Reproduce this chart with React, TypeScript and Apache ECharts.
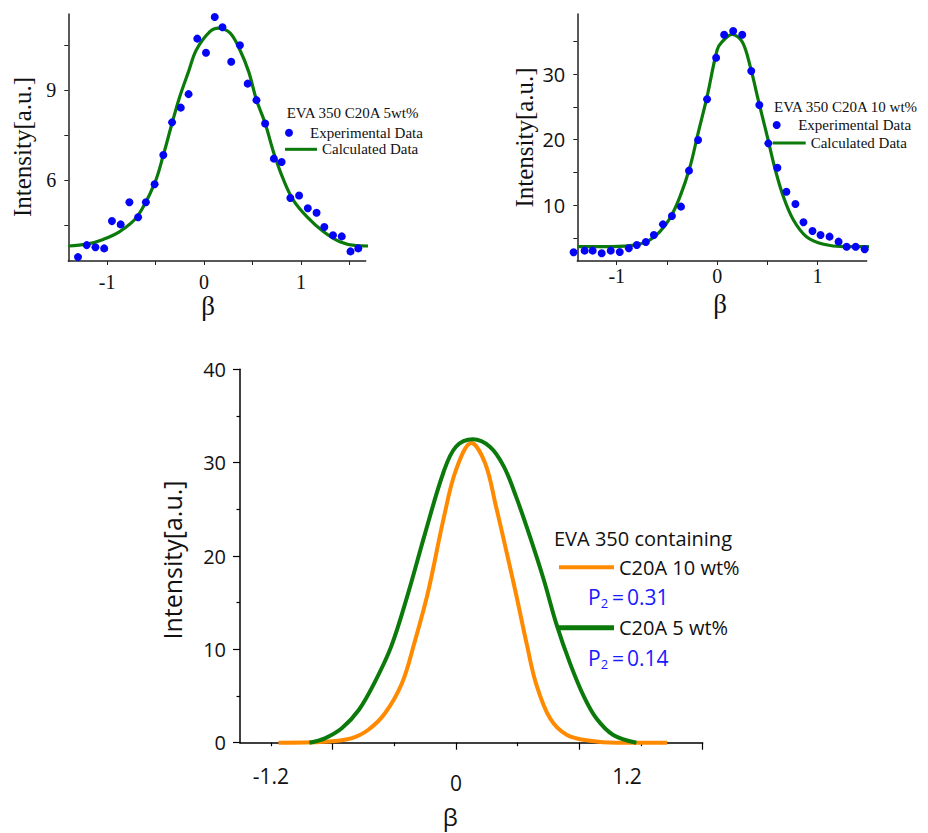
import React, { useEffect, useRef } from 'react';
import * as echarts from 'echarts';

// ---------- Top-left: EVA 350 C20A 5wt% ----------
const tlExpBeta = [-1.30, -1.21, -1.12, -1.03, -0.95, -0.86, -0.77, -0.68, -0.60, -0.51, -0.42, -0.33, -0.24, -0.16, -0.07, 0.02, 0.11, 0.19, 0.28, 0.37, 0.45, 0.54, 0.63, 0.72, 0.80, 0.89, 0.98, 1.07, 1.16, 1.24, 1.33, 1.42, 1.51, 1.59];
const tlExpIntensity = [3.43, 3.83, 3.76, 3.72, 4.63, 4.52, 5.26, 4.76, 5.26, 5.86, 6.83, 7.92, 8.41, 8.86, 10.71, 10.24, 11.43, 11.09, 9.94, 10.49, 9.21, 8.66, 7.88, 6.71, 6.60, 5.40, 5.48, 5.06, 4.91, 4.43, 4.16, 4.12, 3.62, 3.72];
const tlCalcBeta = [-1.40, -1.21, -1.04, -0.87, -0.69, -0.51, -0.42, -0.33, -0.25, -0.16, -0.08, 0.06, 0.15, 0.27, 0.37, 0.46, 0.54, 0.63, 0.72, 0.82, 0.92, 1.06, 1.23, 1.40, 1.57, 1.71];
const tlCalcIntensity = [3.80, 3.86, 4.02, 4.28, 4.78, 5.89, 6.83, 7.89, 8.78, 9.61, 10.33, 10.94, 11.06, 10.89, 10.33, 9.61, 8.67, 7.89, 6.89, 6.00, 5.33, 4.78, 4.28, 3.94, 3.81, 3.80];
const tlXTicks = [-1, -0.5, 0, 0.5, 1, 1.5];
const tlXLabels = [-1, 0, 1];
const tlYTicks = [4.5, 6, 7.5, 9, 10.5];
const tlYLabels = [6, 9];

// ---------- Top-right: EVA 350 C20A 10 wt% ----------
const trExpBeta = [-1.43, -1.32, -1.24, -1.15, -1.06, -0.97, -0.88, -0.80, -0.71, -0.63, -0.54, -0.45, -0.36, -0.28, -0.19, -0.10, -0.01, 0.07, 0.16, 0.25, 0.34, 0.42, 0.51, 0.60, 0.69, 0.78, 0.86, 0.95, 1.03, 1.12, 1.21, 1.29, 1.38, 1.47];
const trExpIntensity = [2.85, 3.10, 3.10, 2.70, 3.10, 2.90, 3.45, 3.96, 4.42, 5.48, 7.10, 8.38, 9.80, 15.28, 19.95, 26.15, 32.48, 35.99, 36.55, 35.99, 30.46, 25.28, 19.44, 15.73, 12.08, 10.20, 7.42, 6.09, 5.48, 5.23, 4.47, 3.70, 3.70, 3.30];
const trCalcBeta = [-1.39, -1.13, -0.87, -0.70, -0.57, -0.47, -0.37, -0.27, -0.19, -0.10, 0.00, 0.05, 0.15, 0.25, 0.33, 0.41, 0.50, 0.58, 0.66, 0.76, 0.89, 1.06, 1.26, 1.55];
const trCalcIntensity = [3.70, 3.70, 3.86, 4.47, 5.99, 8.02, 11.32, 15.88, 20.97, 26.55, 33.65, 34.92, 36.04, 34.92, 31.12, 26.04, 20.45, 15.38, 11.32, 7.77, 5.23, 4.07, 3.70, 3.70];
const trXTicks = [-1, -0.5, 0, 0.5, 1];
const trXLabels = [-1, 0, 1];
const trYTicks = [5, 10, 15, 20, 25, 30, 35];
const trYLabels = [10, 20, 30];

// ---------- Bottom: comparison ----------
const bt10Beta = [-1.15, -0.85, -0.68, -0.57, -0.46, -0.35, -0.27, -0.18, -0.08, 0.00, 0.10, 0.19, 0.26, 0.33, 0.39, 0.46, 0.52, 0.61, 0.72, 0.87, 1.04, 1.37];
const bt10Intensity = [0, 0.10, 0.47, 1.36, 3.15, 6.36, 10.65, 16.2, 24.0, 29.2, 32.1, 29.9, 25.3, 20.3, 15.9, 10.5, 6.3, 2.61, 0.82, 0.20, 0, 0];
const bt5Beta = [-0.95, -0.85, -0.74, -0.63, -0.53, -0.42, -0.31, -0.20, -0.08, 0.00, 0.11, 0.22, 0.31, 0.39, 0.48, 0.57, 0.65, 0.74, 0.83, 0.91, 1.02, 1.17];
const bt5Intensity = [0, 0.47, 1.54, 3.50, 6.36, 10.29, 16.0, 22.43, 29.0, 31.7, 32.5, 31.7, 29.6, 26.36, 22.07, 17.43, 12.79, 8.50, 4.93, 2.61, 0.82, 0];
const btXMajorTicks = [-0.8, 0, 0.8, 1.6];
const btXMinorTicks = [-1.2, -0.4, 0.4, 1.2];
const btXLabels = [-1.2, 0, 1.2];
const btP2 = ['0.31', '0.14'];

const SERIF = '"Liberation Serif", "Times New Roman", serif';
const SANS = '"Open Sans", "Noto Sans", sans-serif';
const BLUE = '#0505f5';
const GREEN = '#0b7a0b';
const ORANGE = '#ff8a00';
const PBLUE = '#1a1aff';
const AX = '#222';

const zip = (xs: number[], ys: number[]) => xs.map((x, i) => [x, ys[i]]);

export default function App() {
  const ref = useRef<HTMLDivElement>(null);
  useEffect(() => {
    if (!ref.current) return;
    const chart = echarts.init(ref.current, null, { renderer: 'svg' });

    const topX = (grid: number, min: number, max: number, ticks: number[], labels: number[], margin: number, namePad: number) => ({
      type: 'value', gridIndex: grid, min, max,
      axisLine: { show: true, onZero: false, lineStyle: { color: AX, width: 1.5 } },
      axisTick: { show: true, customValues: ticks, length: 4, lineStyle: { color: AX, width: 1 } },
      axisLabel: { customValues: labels, margin, fontFamily: SERIF, fontSize: 20, color: '#111' },
      splitLine: { show: false },
      name: 'β', nameLocation: 'middle', nameGap: 29,
      nameTextStyle: { fontFamily: SERIF, fontSize: 27, color: '#111', padding: [0, namePad, 0, 0] },
    });
    const topY = (grid: number, min: number, max: number, ticks: number[], labels: number[], labelFont: string, nameGap: number, namePad: number) => ({
      type: 'value', gridIndex: grid, min, max,
      axisLine: { show: true, onZero: false, lineStyle: { color: AX, width: 1.5 } },
      axisTick: { show: true, customValues: ticks, length: 4, lineStyle: { color: AX, width: 1 } },
      axisLabel: { customValues: labels, margin: 12, fontFamily: labelFont, fontSize: 20, color: '#111' },
      splitLine: { show: false },
      name: 'Intensity[a.u.]', nameLocation: 'middle', nameGap,
      nameTextStyle: { fontFamily: SERIF, fontSize: 25, color: '#111', padding: [0, namePad, 0, 0] },
    });

    const legendBase = (left: number, top: number, name: string, icon: string, w: number, h: number, font: string, size: number) => ({
      show: true, left, top, padding: 0, itemGap: 0, orient: 'horizontal',
      itemWidth: w, itemHeight: h, selectedMode: false,
      itemStyle: { borderWidth: 0 },
      data: [{ name, icon }],
      textStyle: { fontFamily: font, fontSize: size, color: '#111', lineHeight: size + 1 },
    });

    const p2Text = (y: number, val: string) => ({
      type: 'text', x: 588, y,
      style: {
        text: `{p|P}{s|2}{e|=}{p|${val}}`,
        fill: PBLUE, verticalAlign: 'middle',
        rich: {
          p: { fontSize: 21, fontFamily: SANS, fill: PBLUE },
          s: { fontSize: 13, fontFamily: SANS, fill: PBLUE, padding: [12, 1, 0, 0] },
          e: { fontSize: 21, fontFamily: SANS, fill: PBLUE, padding: [0, 3, 0, 3] },
        },
      },
    });

    const option: any = {
      animation: false,
      backgroundColor: '#ffffff',
      grid: [
        { left: 68.3, top: 14, width: 297.4, height: 247, containLabel: false },
        { left: 577.3, top: 14, width: 289.4, height: 247, containLabel: false },
        { left: 240, top: 369.3, width: 462.7, height: 373.4, containLabel: false },
      ],
      xAxis: [
        topX(0, -1.40, 1.667, tlXTicks, tlXLabels, 11, 18),
        topX(1, -1.393, 1.49, trXTicks, trXLabels, 5, 4),
        {
          type: 'value', gridIndex: 2, min: -1.4, max: 1.6, position: 'bottom',
          axisLine: { show: true, onZero: false, lineStyle: { color: '#000', width: 1.5 } },
          axisTick: { show: true, customValues: btXMajorTicks, length: 7, lineStyle: { color: '#000', width: 1.2 } },
          axisLabel: {
            customValues: btXLabels, margin: 23, fontFamily: SANS, fontSize: 21, color: '#111',
            formatter: (v: number) => (v === 0 ? '{lo|0}' : v > 0 ? `{sh|${v}}` : `{n|${v}}`),
            rich: {
              n: { fontFamily: SANS, fontSize: 21, color: '#111' },
              lo: { fontFamily: SANS, fontSize: 21, color: '#111', padding: [7, 0, 0, 0] },
              sh: { fontFamily: SANS, fontSize: 21, color: '#111', padding: [0, 28, 0, 0] },
            },
          },
          splitLine: { show: false },
          name: 'β', nameLocation: 'middle', nameGap: 62,
          nameTextStyle: { fontFamily: SANS, fontSize: 24, color: '#111', padding: [0, 42, 0, 0] },
        },
        {
          type: 'value', gridIndex: 2, min: -1.4, max: 1.6, position: 'bottom',
          axisLine: { show: false, onZero: false },
          axisTick: { show: true, customValues: btXMinorTicks, length: 3.5, lineStyle: { color: '#000', width: 1.2 } },
          axisLabel: { show: false },
          splitLine: { show: false },
        },
      ],
      yAxis: [
        topY(0, 3.3, 11.53, tlYTicks, tlYLabels, SERIF, 33, 19),
        topY(1, 1.52, 39.14, trYTicks, trYLabels, SANS, 40, 0),
        {
          type: 'value', gridIndex: 2, min: 0, max: 40, interval: 10,
          axisLine: { show: true, onZero: false, lineStyle: { color: '#000', width: 1.5 } },
          axisTick: { show: true, length: 7, lineStyle: { color: '#000', width: 1.2 } },
          minorTick: { show: true, splitNumber: 2, length: 3.5, lineStyle: { color: '#000', width: 1.2 } },
          axisLabel: { margin: 14, fontFamily: SANS, fontSize: 20, color: '#111' },
          splitLine: { show: false },
          name: 'Intensity[a.u.]', nameLocation: 'middle', nameGap: 56,
          nameTextStyle: { fontFamily: SANS, fontSize: 25, color: '#111', padding: [0, 8, 0, 0] },
        },
      ],
      legend: [
        legendBase(285, 124.7, 'Experimental Data', 'circle', 32, 8, SERIF, 15),
        legendBase(285, 141.3, 'Calculated Data', 'rect', 32, 3, SERIF, 15),
        legendBase(772.7, 117, 'Experimental Data', 'circle', 33, 8, SERIF, 15),
        legendBase(772.7, 135, 'Calculated Data', 'rect', 33, 3, SERIF, 15),
        legendBase(559, 556.7, 'C20A 10 wt%', 'rect', 55, 4, SANS, 20),
        legendBase(559, 617.3, 'C20A 5 wt%', 'rect', 55, 5, SANS, 20),
      ],
      graphic: [
        { type: 'text', x: 286.7, y: 113.3, style: { text: 'EVA 350 C20A 5wt%', fontFamily: SERIF, fontSize: 15, fill: '#111', verticalAlign: 'middle' } },
        { type: 'text', x: 774, y: 106.7, style: { text: 'EVA 350 C20A 10 wt%', fontFamily: SERIF, fontSize: 15, fill: '#111', verticalAlign: 'middle' } },
        { type: 'text', x: 554, y: 538, style: { text: 'EVA 350 containing', fontFamily: SANS, fontSize: 20, fill: '#111', verticalAlign: 'middle' } },
        p2Text(597, btP2[0]),
        p2Text(658, btP2[1]),
      ],
      series: [
        {
          type: 'scatter', name: 'Experimental Data', xAxisIndex: 0, yAxisIndex: 0,
          data: zip(tlExpBeta, tlExpIntensity), symbol: 'circle', symbolSize: 8,
          itemStyle: { color: BLUE, opacity: 1 }, clip: false, z: 3,
        },
        {
          type: 'line', name: 'Calculated Data', xAxisIndex: 0, yAxisIndex: 0,
          data: zip(tlCalcBeta, tlCalcIntensity), smooth: 0.35, symbol: 'none', showSymbol: false,
          itemStyle: { color: GREEN }, lineStyle: { color: GREEN, width: 3.2 }, clip: false, z: 2,
        },
        {
          type: 'scatter', name: 'Experimental Data', xAxisIndex: 1, yAxisIndex: 1,
          data: zip(trExpBeta, trExpIntensity), symbol: 'circle', symbolSize: 8,
          itemStyle: { color: BLUE, opacity: 1 }, clip: false, z: 3,
        },
        {
          type: 'line', name: 'Calculated Data', xAxisIndex: 1, yAxisIndex: 1,
          data: zip(trCalcBeta, trCalcIntensity), smooth: 0.35, symbol: 'none', showSymbol: false,
          itemStyle: { color: GREEN }, lineStyle: { color: GREEN, width: 3.2 }, clip: false, z: 2,
        },
        {
          type: 'line', name: 'C20A 10 wt%', xAxisIndex: 2, yAxisIndex: 2,
          data: zip(bt10Beta, bt10Intensity), smooth: 0.35, symbol: 'none', showSymbol: false,
          itemStyle: { color: ORANGE }, lineStyle: { color: ORANGE, width: 4 }, clip: false,
        },
        {
          type: 'line', name: 'C20A 5 wt%', xAxisIndex: 2, yAxisIndex: 2,
          data: zip(bt5Beta, bt5Intensity), smooth: 0.35, symbol: 'none', showSymbol: false,
          itemStyle: { color: GREEN }, lineStyle: { color: GREEN, width: 4 }, clip: false,
        },
      ],
    };

    chart.setOption(option);
    return () => chart.dispose();
  }, []);

  return (
    <div
      ref={ref}
      style={{ position: 'absolute', left: 0, top: 0, width: 928, height: 833, background: '#fff' }}
    />
  );
}
